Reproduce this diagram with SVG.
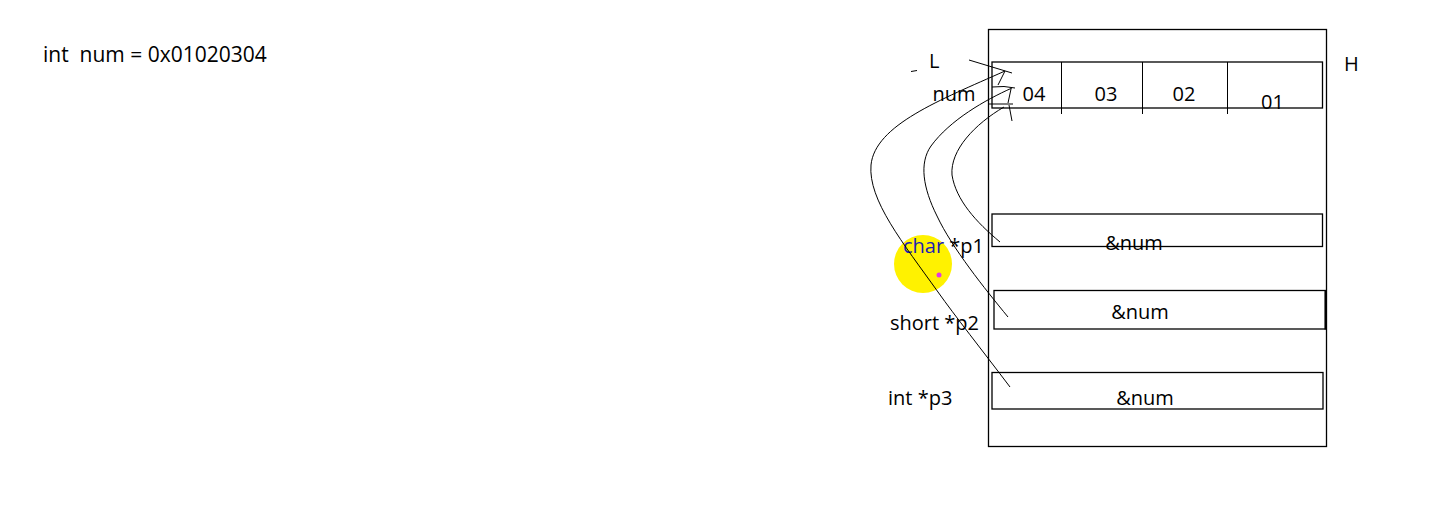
<svg xmlns="http://www.w3.org/2000/svg" width="1443" height="526" viewBox="0 0 1443 526">
<style>
.t{font-family:"Open Sans","Noto Sans","Liberation Sans",sans-serif;font-size:20px;fill:#000}
.box{fill:none;stroke:#000;stroke-width:1.3}
.ln{fill:none;stroke:#000;stroke-width:1}
</style>
<rect width="1443" height="526" fill="#fff"/>
<text class="t" x="43" y="62" xml:space="preserve" style="font-size:21px">int  num = 0x01020304</text>

<g id="memory">
<rect class="box" x="988.5" y="29.5" width="338" height="417"/>
</g>

<g id="num">
<rect class="box" x="992" y="62" width="330.5" height="46"/>
<line class="ln" x1="1061.5" y1="62" x2="1061.5" y2="114"/>
<line class="ln" x1="1142.5" y1="62" x2="1142.5" y2="114"/>
<line class="ln" x1="1227.5" y1="62" x2="1227.5" y2="114"/>
<text class="t" x="1034" y="101" text-anchor="middle">04</text>
<text class="t" x="1106" y="101" text-anchor="middle">03</text>
<text class="t" x="1184" y="101" text-anchor="middle">02</text>
<text class="t" x="1272.5" y="108.5" text-anchor="middle">01</text>
<text class="t" x="954" y="101" text-anchor="middle">num</text>
<text class="t" x="929" y="68">L</text>
<line class="ln" x1="911" y1="71.5" x2="917" y2="70.5"/>
<text class="t" x="1344" y="71">H</text>
</g>

<g id="p1">
<circle cx="923" cy="264" r="29" fill="#fff200"/>
<circle cx="939" cy="275" r="2.5" fill="#e23ce0"/>
<rect class="box" x="992" y="214" width="330.5" height="32.5"/>
<text class="t" x="1134" y="250" text-anchor="middle">&amp;num</text>
<text class="t" x="903" y="253"><tspan fill="#1c1cb4">char</tspan> *p1</text>
</g>

<g id="p2">
<rect class="box" x="994" y="290.5" width="331.5" height="38.5"/>
<line x1="1325.5" y1="290" x2="1325.5" y2="329.5" stroke="#000" stroke-width="2"/>
<text class="t" x="1140" y="319" text-anchor="middle">&amp;num</text>
<text class="t" x="890" y="330">short *p2</text>
</g>

<g id="p3">
<rect class="box" x="992" y="372.5" width="331" height="36.5"/>
<text class="t" x="1145" y="405" text-anchor="middle">&amp;num</text>
<text class="t" x="888" y="405">int *p3</text>
</g>

<g id="connectors">
<line class="ln" x1="969" y1="60" x2="1012" y2="73"/>
<path class="ln" d="M1010,387 C982,350 955,316 938,292 C903,243 868,200 871,165 C875,125 940,100 1005,71"/>
<polyline class="ln" points="998,85 1005,71"/>
<path class="ln" d="M1008,317 C985,289 952,248 937,216 C923,188 919,163 931,146 C950,120 985,100 1012,88"/>
<polyline class="ln" points="992,87 1004,86.5 1015,88"/>
<line class="ln" x1="1011" y1="89" x2="1008" y2="103"/>
<path class="ln" d="M1000,242 C976,222 956,200 952,175 C950,150 975,124 1004,107"/>
<line class="ln" x1="988" y1="104" x2="1013" y2="104"/>
<line class="ln" x1="1009" y1="105" x2="1012" y2="121"/>
</g>
</svg>
